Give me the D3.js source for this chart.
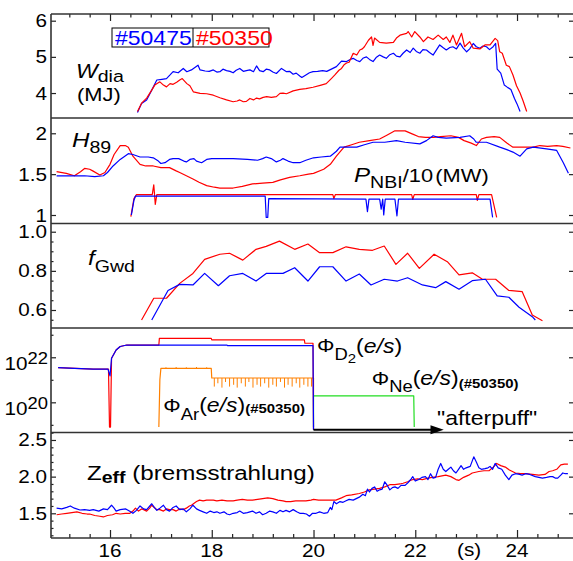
<!DOCTYPE html>
<html>
<head>
<meta charset="utf-8">
<script src="https://cdn.jsdelivr.net/npm/d3@7"></script>
<style>
  body { margin: 0; background: #fff; }
  svg { display: block; }
</style>
</head>
<body>
<div id="chart"></div>
<script>
// ---- data (time in s) ----
var timeTicks = [16, 18, 20, 22, 24];

// W_dia (MJ)
var wdiaBlue = [[16.54,3.46],[16.62,3.71],[16.72,3.81],[16.82,4.08],[16.92,4.36],[17.02,4.38],[17.11,4.4],[17.18,4.5],[17.24,4.59],[17.34,4.56],[17.44,4.68],[17.51,4.59],[17.6,4.64],[17.73,4.77],[17.77,4.64],[17.87,4.61],[17.95,4.6],[18.03,4.64],[18.1,4.58],[18.16,4.59],[18.22,4.66],[18.29,4.62],[18.36,4.6],[18.42,4.56],[18.48,4.63],[18.55,4.68],[18.62,4.6],[18.68,4.62],[18.75,4.64],[18.82,4.59],[18.88,4.75],[18.94,4.62],[19.01,4.59],[19.07,4.66],[19.14,4.64],[19.2,4.58],[19.27,4.54],[19.37,4.68],[19.47,4.59],[19.53,4.6],[19.6,4.52],[19.66,4.55],[19.73,4.47],[19.77,4.43],[19.85,4.5],[19.92,4.56],[19.99,4.59],[20.08,4.6],[20.18,4.62],[20.26,4.6],[20.35,4.66],[20.45,4.73],[20.55,4.88],[20.65,4.87],[20.72,4.93],[20.78,4.96],[20.85,4.9],[20.91,4.87],[20.98,4.97],[21.04,5.0],[21.1,4.93],[21.17,4.87],[21.23,4.98],[21.3,5.05],[21.37,5.0],[21.43,4.96],[21.5,5.06],[21.57,5.1],[21.63,5.02],[21.7,5.0],[21.76,5.1],[21.83,5.19],[21.9,5.12],[21.96,5.24],[22.02,5.15],[22.09,5.1],[22.15,5.2],[22.22,5.19],[22.28,5.12],[22.35,5.05],[22.42,5.2],[22.48,5.33],[22.55,5.25],[22.61,5.19],[22.68,5.26],[22.74,5.28],[22.81,5.22],[22.88,5.38],[22.94,5.25],[23.01,5.14],[23.07,5.22],[23.14,5.37],[23.2,5.28],[23.27,5.24],[23.33,5.3],[23.4,5.28],[23.46,5.2],[23.53,5.28],[23.58,5.37],[23.61,4.66],[23.68,4.55],[23.75,4.22],[23.82,4.15],[23.88,4.1],[23.95,3.85],[24.0,3.7],[24.06,3.49]];
var wdiaRed = [[16.54,3.49],[16.62,3.72],[16.72,3.86],[16.82,4.08],[16.88,4.22],[16.98,4.31],[17.05,4.22],[17.11,4.17],[17.18,4.26],[17.24,4.24],[17.31,4.3],[17.37,4.36],[17.42,4.4],[17.51,4.26],[17.57,4.2],[17.64,4.03],[17.77,3.99],[17.9,3.98],[18.03,3.94],[18.16,3.87],[18.29,3.81],[18.42,3.76],[18.5,3.78],[18.55,3.81],[18.62,3.76],[18.68,3.77],[18.75,3.85],[18.82,3.81],[18.88,3.86],[18.94,3.84],[19.01,3.88],[19.08,3.9],[19.17,3.88],[19.27,3.9],[19.34,3.99],[19.4,4.0],[19.47,3.98],[19.6,4.06],[19.73,4.1],[19.85,4.12],[19.99,4.16],[20.15,4.22],[20.25,4.26],[20.35,4.4],[20.42,4.5],[20.5,4.63],[20.55,4.68],[20.6,4.78],[20.65,4.83],[20.7,4.85],[20.78,5.1],[20.85,5.05],[20.91,5.19],[20.96,5.22],[21.0,5.28],[21.08,5.46],[21.14,5.55],[21.17,5.32],[21.2,5.52],[21.3,5.4],[21.43,5.38],[21.57,5.4],[21.63,5.52],[21.7,5.6],[21.83,5.65],[21.86,5.7],[21.93,5.55],[21.99,5.7],[22.09,5.55],[22.16,5.42],[22.25,5.55],[22.35,5.48],[22.45,5.6],[22.55,5.48],[22.61,5.55],[22.68,5.4],[22.74,5.6],[22.81,5.33],[22.91,5.65],[22.97,5.28],[23.07,5.42],[23.14,5.24],[23.27,5.22],[23.37,5.33],[23.47,5.33],[23.57,5.51],[23.62,5.45],[23.66,5.14],[23.71,5.1],[23.79,4.77],[23.85,4.73],[23.92,4.5],[23.99,4.2],[24.06,4.0],[24.12,3.78],[24.19,3.49]];

// H89
var h89Blue = [[14.95,1.48],[15.2,1.48],[15.5,1.48],[15.7,1.47],[15.87,1.48],[15.95,1.52],[16.06,1.6],[16.2,1.68],[16.36,1.75],[16.45,1.74],[16.59,1.71],[16.75,1.71],[16.85,1.7],[16.95,1.66],[17.0,1.63],[17.08,1.64],[17.17,1.68],[17.24,1.69],[17.35,1.69],[17.45,1.66],[17.5,1.65],[17.57,1.68],[17.65,1.69],[17.7,1.66],[17.8,1.64],[17.9,1.68],[18.0,1.69],[18.2,1.69],[18.42,1.69],[18.7,1.68],[18.9,1.67],[19.0,1.69],[19.07,1.71],[19.17,1.69],[19.27,1.65],[19.35,1.67],[19.4,1.69],[19.5,1.66],[19.6,1.64],[19.73,1.64],[19.85,1.67],[20.0,1.7],[20.15,1.71],[20.33,1.72],[20.45,1.78],[20.52,1.83],[20.7,1.83],[20.85,1.83],[21.0,1.86],[21.17,1.89],[21.4,1.89],[21.63,1.91],[21.8,1.89],[22.09,1.87],[22.22,1.91],[22.35,1.97],[22.45,1.95],[22.61,1.94],[22.88,1.95],[23.07,1.97],[23.15,1.93],[23.2,1.89],[23.4,1.89],[23.66,1.83],[23.8,1.8],[23.92,1.77],[24.06,1.72],[24.19,1.81],[24.32,1.83],[24.58,1.81],[24.78,1.79],[24.91,1.64],[25.01,1.51]];
var h89Red = [[14.95,1.53],[15.14,1.51],[15.3,1.48],[15.42,1.53],[15.5,1.57],[15.6,1.56],[15.66,1.54],[15.8,1.49],[15.9,1.52],[16.0,1.62],[16.08,1.74],[16.2,1.85],[16.3,1.85],[16.36,1.83],[16.45,1.72],[16.59,1.62],[16.7,1.6],[16.85,1.6],[17.0,1.58],[17.17,1.58],[17.3,1.54],[17.37,1.52],[17.5,1.48],[17.63,1.44],[17.75,1.4],[17.9,1.36],[18.05,1.34],[18.16,1.33],[18.42,1.33],[18.6,1.35],[18.8,1.38],[19.0,1.39],[19.2,1.4],[19.35,1.43],[19.53,1.46],[19.73,1.48],[19.9,1.5],[20.0,1.51],[20.2,1.56],[20.33,1.62],[20.45,1.72],[20.6,1.83],[20.75,1.86],[20.9,1.89],[21.1,1.91],[21.3,1.93],[21.45,1.98],[21.6,2.03],[21.8,2.03],[21.95,1.99],[22.06,1.96],[22.2,1.95],[22.36,1.95],[22.5,1.96],[22.7,1.97],[22.85,1.95],[22.96,1.91],[23.1,1.88],[23.2,1.85],[23.3,1.93],[23.4,1.95],[23.55,1.96],[23.66,1.95],[23.8,1.88],[23.92,1.83],[24.1,1.83],[24.32,1.83],[24.45,1.85],[24.6,1.84],[24.78,1.85],[24.9,1.84],[25.05,1.82]];

// P_NBI/10 (MW)
var pnbiBlue = [[16.42,1.0],[16.47,1.18],[16.5,1.23],[19.05,1.23],[19.07,0.97],[19.1,0.97],[19.12,1.2],[21.03,1.195],[21.06,1.04],[21.09,1.195],[21.3,1.195],[21.33,1.07],[21.36,1.195],[21.38,1.0],[21.41,1.195],[21.6,1.195],[21.64,0.99],[21.67,1.195],[23.47,1.195],[23.52,0.97]];
var pnbiRed = [[16.41,0.98],[16.47,1.2],[16.52,1.25],[16.83,1.25],[16.86,1.37],[16.89,1.13],[16.92,1.25],[20.38,1.25],[20.4,1.2],[20.43,1.25],[21.93,1.25],[21.95,1.19],[21.98,1.25],[23.2,1.25],[23.22,1.18],[23.25,1.25],[23.5,1.25],[23.6,0.97]];

// f_Gwd
var fgwdBlue = [[16.82,0.549],[17.14,0.7],[17.37,0.731],[17.63,0.728],[17.86,0.787],[18.13,0.724],[18.35,0.775],[18.61,0.787],[18.87,0.748],[19.07,0.787],[19.4,0.787],[19.63,0.816],[19.89,0.748],[20.12,0.821],[20.38,0.821],[20.64,0.748],[20.9,0.784],[21.13,0.728],[21.39,0.757],[21.65,0.748],[21.85,0.765],[22.14,0.728],[22.4,0.714],[22.6,0.745],[22.86,0.706],[23.12,0.75],[23.38,0.757],[23.61,0.672],[23.84,0.665],[24.04,0.614],[24.3,0.566],[24.36,0.549]];
var fgwdRed = [[16.62,0.549],[16.86,0.66],[17.11,0.66],[17.37,0.736],[17.63,0.787],[17.86,0.859],[18.16,0.885],[18.35,0.89],[18.61,0.855],[18.87,0.91],[19.07,0.925],[19.33,0.952],[19.63,0.91],[19.89,0.937],[20.12,0.893],[20.38,0.893],[20.64,0.923],[20.9,0.91],[21.16,0.905],[21.39,0.927],[21.62,0.833],[21.85,0.89],[22.08,0.813],[22.37,0.885],[22.63,0.847],[22.86,0.779],[23.12,0.79],[23.32,0.757],[23.58,0.757],[23.84,0.7],[24.1,0.694],[24.3,0.574],[24.5,0.545]];

// gas fluxes (e/s)
var fluxD2Blue = [[14.98,3.5e21],[15.3,3.2e21],[15.67,3.0e21],[15.96,3.0e21],[16.0,1.5e21],[16.03,9e21],[16.12,2.1e22],[16.2,3.0e22],[16.33,3.5e22],[18.3,3.5e22],[18.31,3.3e22],[19.99,3.3e22],[20.0,6e18]];
var fluxD2Red = [[14.98,3.5e21],[15.67,3.0e21],[15.97,3.0e21],[15.99,8e18],[16.01,8e18],[16.03,9e21],[16.12,2.1e22],[16.2,3.0e22],[16.33,3.5e22],[16.96,3.5e22],[16.97,6.9e22],[17.99,6.9e22],[18.0,5.9e22],[19.82,5.9e22],[19.83,4.2e22],[19.99,4.2e22],[20.0,6e18]];
var fluxAr = [[16.96,8e18],[16.98,1.0e21],[17.0,3.2e21],[17.99,3.2e21],[18.0,1.2e21],[20.0,1.2e21],[20.0,2.0e20]];
var fluxArSpikes = [[17.1,3.6e21],[17.3,3.7e21],[17.5,3.6e21],[17.7,3.7e21],[17.9,3.6e21],
  [18.05,5e20],[18.12,7e20],[18.2,4.5e20],[18.27,8e20],[18.35,5e20],[18.43,6e20],[18.5,4.5e20],[18.58,7e20],[18.66,5e20],[18.73,8e20],[18.81,4.5e20],[18.89,6e20],[18.96,5e20],[19.04,7e20],[19.12,4.5e20],[19.2,6e20],[19.27,5e20],[19.35,8e20],[19.43,4.5e20],[19.5,6e20],[19.58,5e20],[19.66,7e20],[19.73,4.5e20],[19.81,6e20],[19.89,5e20],[19.96,5e20]];
var fluxNe = [[20.0,8e18],[20.0,1.95e20],[21.97,1.95e20],[21.98,8e18]];

// Z_eff
var zeffBlue = [[14.95,1.57],[15.05,1.56],[15.15,1.58],[15.22,1.6],[15.3,1.57],[15.41,1.545],[15.5,1.55],[15.6,1.54],[15.67,1.55],[15.78,1.53],[15.87,1.56],[15.95,1.55],[16.03,1.61],[16.08,1.57],[16.12,1.53],[16.2,1.55],[16.31,1.56],[16.38,1.53],[16.45,1.5],[16.52,1.54],[16.59,1.6],[16.66,1.56],[16.72,1.55],[16.82,1.63],[16.87,1.58],[16.92,1.54],[16.98,1.57],[17.05,1.61],[17.11,1.55],[17.17,1.53],[17.24,1.58],[17.3,1.6],[17.37,1.55],[17.44,1.56],[17.5,1.52],[17.57,1.56],[17.63,1.61],[17.7,1.56],[17.76,1.54],[17.83,1.52],[17.9,1.5],[17.97,1.53],[18.04,1.51],[18.1,1.52],[18.16,1.5],[18.24,1.52],[18.3,1.49],[18.35,1.48],[18.42,1.5],[18.5,1.51],[18.55,1.53],[18.62,1.5],[18.7,1.51],[18.8,1.53],[18.87,1.5],[18.94,1.52],[19.0,1.48],[19.07,1.5],[19.14,1.53],[19.2,1.52],[19.27,1.5],[19.34,1.54],[19.4,1.52],[19.46,1.54],[19.53,1.52],[19.6,1.55],[19.67,1.52],[19.73,1.5],[19.8,1.5],[19.86,1.49],[19.92,1.46],[19.98,1.5],[20.05,1.5],[20.12,1.52],[20.2,1.5],[20.28,1.51],[20.33,1.58],[20.36,1.55],[20.4,1.66],[20.45,1.63],[20.52,1.66],[20.58,1.65],[20.64,1.67],[20.7,1.69],[20.78,1.68],[20.84,1.7],[20.9,1.72],[20.97,1.76],[21.02,1.74],[21.06,1.83],[21.1,1.79],[21.15,1.84],[21.2,1.86],[21.25,1.8],[21.3,1.82],[21.35,1.83],[21.4,1.93],[21.45,1.88],[21.5,1.82],[21.55,1.85],[21.6,1.86],[21.66,1.84],[21.72,1.88],[21.8,1.88],[21.86,1.92],[21.92,1.97],[21.95,2.0],[22.0,1.94],[22.07,1.96],[22.13,1.99],[22.2,2.0],[22.25,1.96],[22.3,2.04],[22.35,1.98],[22.4,1.99],[22.45,2.1],[22.5,2.18],[22.55,2.1],[22.6,2.07],[22.65,2.1],[22.7,2.13],[22.75,2.08],[22.8,2.05],[22.85,2.1],[22.9,2.15],[22.95,2.1],[23.0,2.12],[23.08,2.14],[23.15,2.27],[23.2,2.2],[23.25,2.12],[23.3,2.1],[23.37,2.11],[23.43,2.12],[23.47,2.14],[23.52,2.1],[23.57,2.18],[23.63,2.12],[23.7,2.1],[23.77,2.02],[23.84,1.96],[23.9,2.02],[23.97,2.04],[24.05,2.03],[24.1,2.02],[24.17,2.04],[24.25,2.03],[24.36,2.0],[24.43,1.99],[24.5,1.98],[24.58,1.99],[24.65,2.0],[24.7,2.0],[24.75,1.98],[24.8,1.98],[24.86,2.02],[24.9,2.05],[24.95,2.04],[25.0,2.04]];
var zeffRed = [[14.95,1.48],[15.05,1.49],[15.15,1.5],[15.25,1.51],[15.35,1.52],[15.45,1.5],[15.55,1.49],[15.6,1.49],[15.7,1.47],[15.8,1.46],[15.87,1.45],[15.95,1.47],[16.05,1.48],[16.12,1.5],[16.2,1.49],[16.3,1.5],[16.39,1.5],[16.45,1.53],[16.5,1.57],[16.56,1.53],[16.62,1.56],[16.66,1.55],[16.72,1.53],[16.78,1.57],[16.82,1.61],[16.87,1.58],[16.92,1.55],[16.98,1.55],[17.05,1.53],[17.11,1.56],[17.17,1.55],[17.24,1.55],[17.3,1.53],[17.37,1.56],[17.44,1.55],[17.5,1.57],[17.56,1.6],[17.6,1.61],[17.66,1.64],[17.7,1.66],[17.76,1.68],[17.83,1.67],[17.9,1.68],[17.97,1.68],[18.03,1.68],[18.1,1.67],[18.2,1.68],[18.3,1.67],[18.42,1.67],[18.5,1.68],[18.6,1.69],[18.7,1.68],[18.8,1.68],[18.9,1.69],[19.0,1.7],[19.1,1.71],[19.2,1.7],[19.3,1.68],[19.4,1.67],[19.46,1.66],[19.55,1.66],[19.65,1.67],[19.75,1.67],[19.85,1.67],[19.95,1.68],[20.0,1.69],[20.1,1.68],[20.2,1.68],[20.3,1.68],[20.44,1.68],[20.55,1.71],[20.64,1.74],[20.75,1.75],[20.9,1.77],[21.0,1.79],[21.1,1.82],[21.2,1.83],[21.3,1.84],[21.4,1.86],[21.5,1.89],[21.6,1.89],[21.7,1.9],[21.76,1.91],[21.85,1.93],[21.95,1.96],[22.05,1.97],[22.14,1.96],[22.25,1.98],[22.33,1.99],[22.45,2.0],[22.6,2.02],[22.7,2.0],[22.8,1.96],[22.86,1.95],[22.95,1.99],[23.05,2.02],[23.12,2.05],[23.25,2.07],[23.35,2.08],[23.45,2.08],[23.55,2.14],[23.6,2.18],[23.68,2.15],[23.77,2.13],[23.85,2.09],[23.97,2.05],[24.07,2.04],[24.17,2.04],[24.3,2.03],[24.43,2.02],[24.55,2.03],[24.63,2.07],[24.7,2.08],[24.78,2.1],[24.86,2.16],[24.93,2.17],[25.0,2.17]];

// tick labels
var wdiaTicks = [4, 5, 6];
var h89Ticks = [1, 1.5, 2];
var fgwdTicks = [0.6, 0.8, 1.0];
var fluxTicks = [1e20, 1e22];
var zeffTicks = [1.5, 2.0, 2.5];

// ---- layout ----
var width = 573, height = 561;
var left = 51, right = 574;
var bounds = [14, 118, 223.5, 328, 432.5, 538];
var FONT = "'Liberation Sans', Arial, sans-serif";
var SX = 1.15; // the original font is a little wide

var svg = d3.select("#chart").append("svg")
  .attr("width", width).attr("height", height);

var x = d3.scaleLinear().domain([14.84, 25.12]).range([left, right]);

var y1 = d3.scaleLinear().domain([3.31, 6.185]).range([bounds[1], bounds[0]]);
var y2 = d3.scaleLinear().domain([0.896, 2.187]).range([bounds[2], bounds[1]]);
var y3 = d3.scaleLinear().domain([0.508, 1.042]).range([bounds[3], bounds[2]]);
var y4 = d3.scaleLog().domain([Math.pow(10, 18.66), Math.pow(10, 23.30)]).range([bounds[4], bounds[3]]);
var y5 = d3.scaleLinear().domain([1.163, 2.602]).range([bounds[5], bounds[4]]);

// text helper: parts = [{t, s, b (baseline offset), i, w, fill}]
function label(px, py, parts, anchor) {
  var t = svg.append("text")
    .attr("transform", `translate(${px},${py}) scale(${SX},1)`)
    .attr("font-family", FONT)
    .attr("fill", "#000");
  if (anchor) t.attr("text-anchor", anchor);
  var cur = 0;
  parts.forEach(function(p) {
    var b = p.b || 0;
    var s = t.append("tspan").attr("dy", b - cur).attr("font-size", p.s).text(p.t);
    cur = b;
    if (p.i) s.attr("font-style", "italic");
    if (p.w) s.attr("font-weight", p.w);
    if (p.fill) s.attr("fill", p.fill);
    if (p.dx) s.attr("dx", p.dx);
  });
  return t;
}

// ---- ticks ----
var minorT = d3.range(15.2, 25.0, 0.4).filter(function(t) { return Math.abs(t / 2 - Math.round(t / 2)) > 0.01; });

// top ticks of first panel
svg.append("g").attr("transform", `translate(0,${bounds[0]})`)
  .call(d3.axisTop(x).tickValues(timeTicks).tickSize(-7).tickFormat(""));
svg.append("g").attr("transform", `translate(0,${bounds[0]})`)
  .call(d3.axisTop(x).tickValues(minorT).tickSize(-3.5).tickFormat(""));
// bottom ticks of last panel
svg.append("g").attr("transform", `translate(0,${bounds[5]})`)
  .call(d3.axisBottom(x).tickValues(timeTicks).tickSize(-8).tickFormat(""));
svg.append("g").attr("transform", `translate(0,${bounds[5]})`)
  .call(d3.axisBottom(x).tickValues(minorT).tickSize(-4).tickFormat(""));

var panels = [
  { y: y1, major: wdiaTicks, minor: [] },
  { y: y2, major: h89Ticks, minor: [] },
  { y: y3, major: fgwdTicks, minor: [0.55, 0.65, 0.7, 0.75, 0.85, 0.9, 0.95] },
  { y: y4, major: fluxTicks, minor: [1e19, 1e21, 1e23] },
  { y: y5, major: zeffTicks, minor: [1.2, 1.3, 1.4, 1.6, 1.7, 1.8, 1.9, 2.1, 2.2, 2.3, 2.4, 2.6] }
];
panels.forEach(function(p) {
  svg.append("g").attr("transform", `translate(${left},0)`)
    .call(d3.axisLeft(p.y).tickValues(p.major).tickSize(-5).tickFormat(""));
  svg.append("g").attr("transform", `translate(${left},0)`)
    .call(d3.axisLeft(p.y).tickValues(p.minor).tickSize(-2.5).tickFormat(""));
  svg.append("g").attr("transform", `translate(${right},0)`)
    .call(d3.axisRight(p.y).tickValues(p.major).tickSize(-5).tickFormat(""));
});
svg.selectAll(".domain").remove();
svg.selectAll(".tick line").attr("stroke", "#222").attr("stroke-width", 1.2);

// frame
bounds.forEach(function(b) {
  svg.append("line").attr("x1", left).attr("x2", right).attr("y1", b).attr("y2", b)
    .attr("stroke", "#333").attr("stroke-width", 1.6);
});
svg.append("line").attr("x1", left).attr("x2", left).attr("y1", bounds[0]).attr("y2", bounds[5])
  .attr("stroke", "#333").attr("stroke-width", 1.6);

// tick labels
var fmt1 = d3.format(".1f");
wdiaTicks.forEach(function(v) { label(47, y1(v) + 6.5, [{ t: String(v), s: 18 }], "end"); });
h89Ticks.forEach(function(v) { label(47, y2(v) + 6.5, [{ t: String(v), s: 18 }], "end"); });
fgwdTicks.forEach(function(v) { label(47, y3(v) + 6.5, [{ t: fmt1(v), s: 18 }], "end"); });
zeffTicks.forEach(function(v) { label(47, y5(v) + 6.5, [{ t: fmt1(v), s: 18 }], "end"); });
fluxTicks.forEach(function(v) {
  label(48, y4(v) + 12.7, [{ t: "10", s: 18 }, { t: String(Math.round(Math.log10(v))), s: 16, b: -6 }], "end");
});
timeTicks.forEach(function(t) { label(x(t), 556.5, [{ t: String(t), s: 18 }], "middle"); });
label(457, 556, [{ t: "(s)", s: 18 }]);

// ---- curves ----
var BLUE = "#0000ff", RED = "#ff0000", ORANGE = "#ff8000", GREEN = "#22dd22";
function curve(data, ys, color, w) {
  svg.append("path").datum(data)
    .attr("d", d3.line().x(function(d) { return x(d[0]); }).y(function(d) { return ys(d[1]); }))
    .attr("fill", "none").attr("stroke", color).attr("stroke-width", w || 1.2)
    .attr("stroke-linejoin", "round");
}

curve(wdiaBlue, y1, BLUE);
curve(wdiaRed, y1, RED);

curve(h89Red, y2, RED);
curve(h89Blue, y2, BLUE);
curve(pnbiRed, y2, RED);
curve(pnbiBlue, y2, BLUE);

curve(fgwdRed, y3, RED);
curve(fgwdBlue, y3, BLUE);

curve(fluxNe, y4, GREEN);
curve(fluxAr, y4, ORANGE);
svg.append("g").selectAll("line").data(fluxArSpikes).enter().append("line")
  .attr("x1", function(d) { return x(d[0]); }).attr("x2", function(d) { return x(d[0]); })
  .attr("y1", function(d) { return y4(d[0] < 18 ? 3.2e21 : 1.2e21); })
  .attr("y2", function(d) { return y4(d[1]); })
  .attr("stroke", ORANGE).attr("stroke-width", 1);
curve(fluxD2Red, y4, RED);
curve(fluxD2Blue, y4, BLUE);

curve(zeffRed, y5, RED);
curve(zeffBlue, y5, BLUE);

// "afterpuff" arrow
var arrowY = y4(6e18);
svg.append("line").attr("x1", x(20)).attr("x2", x(22.42)).attr("y1", arrowY).attr("y2", arrowY)
  .attr("stroke", "#000").attr("stroke-width", 2);
svg.append("path")
  .attr("d", `M${x(22.56)},${arrowY} L${x(22.3)},${arrowY - 4.5} L${x(22.3)},${arrowY + 4.5} Z`)
  .attr("fill", "#000");

// ---- legend ----
svg.append("rect").attr("x", 112).attr("y", 28).attr("width", 157).attr("height", 19)
  .attr("fill", "#fff").attr("stroke", "#000").attr("stroke-width", 1);
svg.append("line").attr("x1", 193).attr("x2", 193).attr("y1", 28).attr("y2", 47)
  .attr("stroke", "#000").attr("stroke-width", 1);
label(115, 45, [{ t: "#50475", s: 20, fill: BLUE }]);
label(196, 45, [{ t: "#50350", s: 20, fill: RED }]);

// ---- panel labels ----
label(76, 78, [{ t: "W", s: 20, i: true }, { t: "dia", s: 17, b: 4 }]);
label(77, 101, [{ t: "(MJ)", s: 19 }]);
label(72, 147.3, [{ t: "H", s: 21, i: true }, { t: "89", s: 17, b: 5.4 }]);
label(354, 181.7, [{ t: "P", s: 21, i: true }, { t: "NBI", s: 17, b: 6.6 }, { t: "/10", s: 19, b: 0 }, { t: "(MW)", s: 19, b: 0, dx: 2 }]);
label(88, 265, [{ t: "f", s: 21, i: true }, { t: "Gwd", s: 17, b: 6.7 }]);
label(317, 351.7, [{ t: "\u03a6", s: 19 }, { t: "D", s: 16, b: 8.3 }, { t: "2", s: 13, b: 11.3 }, { t: "(", s: 20, b: 1.3 }, { t: "e/s", s: 20, b: 1.3, i: true }, { t: ")", s: 20, b: 1.3 }]);
label(371.7, 385, [{ t: "\u03a6", s: 19 }, { t: "Ne", s: 16, b: 6.7 }, { t: "(", s: 20, b: 0 }, { t: "e/s", s: 20, b: 0, i: true }, { t: ")", s: 20, b: 0 }, { t: "(#50350)", s: 13, b: 3.3, w: "bold" }]);
label(163.3, 411.7, [{ t: "\u03a6", s: 19 }, { t: "Ar", s: 16, b: 8.3 }, { t: "(", s: 20, b: 0.3 }, { t: "e/s", s: 20, b: 0.3, i: true }, { t: ")", s: 20, b: 0.3 }, { t: "(#50350)", s: 13, b: 1.3, w: "bold" }]);
label(437, 424.5, [{ t: "\"afterpuff\"", s: 20 }]);
label(87, 480, [{ t: "Z", s: 21 }, { t: "eff", s: 17, b: 3.3, w: "bold" }, { t: " (bremsstrahlung)", s: 21, b: 0 }]);
</script>
</body>
</html>
